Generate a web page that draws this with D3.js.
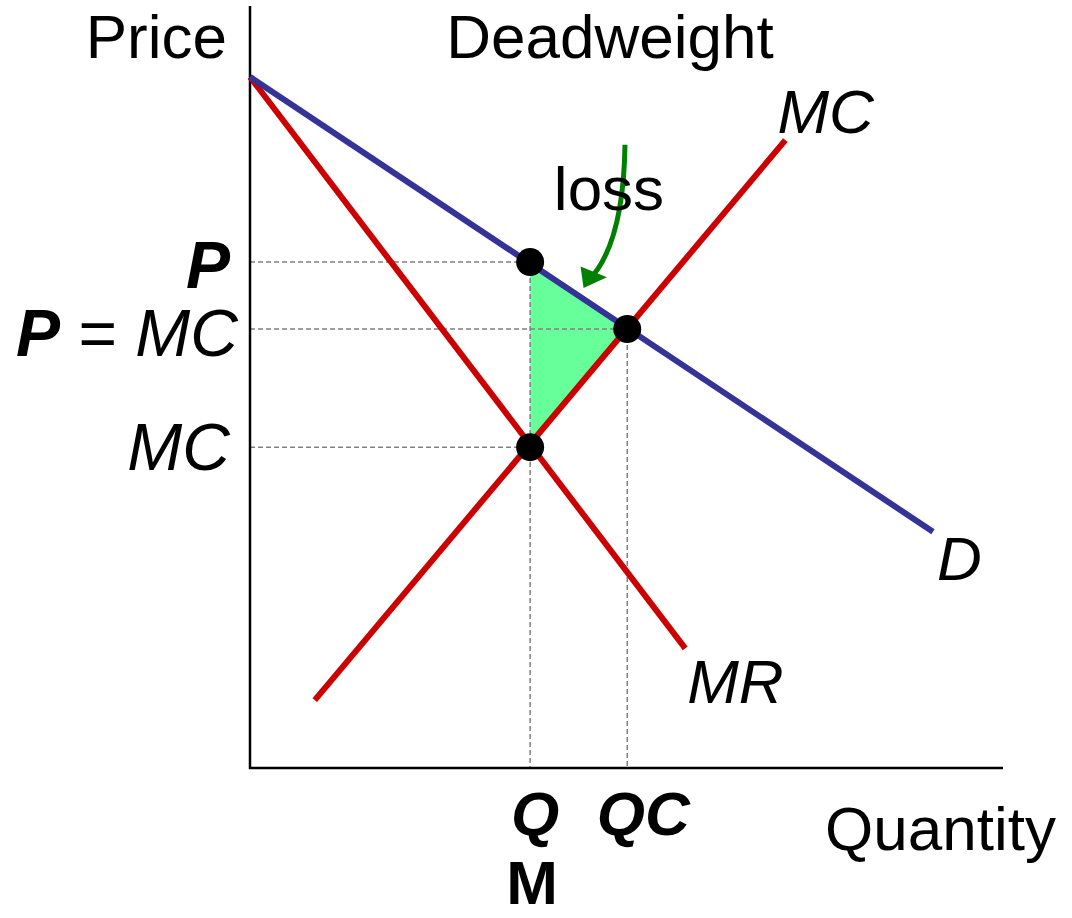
<!DOCTYPE html>
<html>
<head>
<meta charset="utf-8">
<script src="https://cdn.jsdelivr.net/npm/d3@7"></script>
<style>
  body { margin: 0; background: #fff; }
  svg text { font-family: "Liberation Sans", Arial, sans-serif; font-size: 62px; fill: #000; }
</style>
</head>
<body>
<svg id="chart"></svg>
<script>
// curves, in quantity / price units (0..100)
const demand = [[0, 90.7], [90.7, 31.0]];
const marginalRevenue = [[0, 90.7], [57.8, 15.7]];
const marginalCost = [[8.6, 8.9], [71.1, 82.4]];

// key points: monopoly price, competitive equilibrium, monopoly MC
const qM = 37.2, qC = 50.1;
const pM = 66.4, pC = 57.6, mcM = 42.1;
const dots = [[qM, pM], [qC, pC], [qM, mcM]];
const deadweight = [[qM, pM], [qC, pC], [qM, mcM]];

const width = 1072, height = 918;
let svg = d3.select("#chart").attr("width", width).attr("height", height);

let x = d3.scaleLinear().domain([0, 100]).range([250, 1003]);
let y = d3.scaleLinear().domain([0, 100]).range([768, 6]);
let line = d3.line().x((d) => x(d[0])).y((d) => y(d[1]));

// deadweight loss triangle
svg.append("path")
  .attr("d", line(deadweight) + "Z")
  .attr("fill", "#66ff99");

// dashed guides
let guides = [
  [[0, pM], [qM, pM]],
  [[0, pC], [qC, pC]],
  [[0, mcM], [qM, mcM]],
  [[qM, pM], [qM, 0]],
  [[qC, pC], [qC, 0]]
];
svg.selectAll(".guide")
  .data(guides)
  .enter()
  .append("path")
  .attr("class", "guide")
  .attr("d", line)
  .attr("stroke", "#808080")
  .attr("stroke-width", 1.5)
  .attr("stroke-dasharray", "5,3")
  .attr("fill", "none");

// axes
svg.append("path")
  .attr("d", line([[0, 100], [0, 0], [100, 0]]))
  .attr("stroke", "#000")
  .attr("stroke-width", 2.5)
  .attr("fill", "none");

// curves
svg.append("path").attr("d", line(marginalRevenue))
  .attr("stroke", "#cc0000").attr("stroke-width", 6).attr("fill", "none");
svg.append("path").attr("d", line(marginalCost))
  .attr("stroke", "#cc0000").attr("stroke-width", 6).attr("fill", "none");
svg.append("path").attr("d", line(demand))
  .attr("stroke", "#333399").attr("stroke-width", 6).attr("fill", "none");

svg.selectAll(".dot")
  .data(dots)
  .enter()
  .append("circle")
  .attr("class", "dot")
  .attr("cx", (d) => x(d[0]))
  .attr("cy", (d) => y(d[1]))
  .attr("r", 14)
  .attr("fill", "#000");

// green arrow pointing at the triangle
let arrow = d3.path();
arrow.moveTo(x(49.8), y(81.8));
arrow.quadraticCurveTo(x(49.6), y(68.5), x(44.8), y(63.8));
svg.append("path")
  .attr("d", arrow.toString())
  .attr("stroke", "#008000")
  .attr("stroke-width", 5)
  .attr("fill", "none");
svg.append("path")
  .attr("d", line([[44.3, 63.0], [43.9, 65.8], [47.4, 64.4]]) + "Z")
  .attr("fill", "#008000");

// text labels
function label(text, px, py, anchor, size) {
  let t = svg.append("text")
    .attr("x", px)
    .attr("y", py)
    .attr("text-anchor", anchor);
  if (size) t.style("font-size", size + "px");
  text.forEach((part) => {
    t.append("tspan")
      .attr("font-style", part.italic ? "italic" : "normal")
      .attr("font-weight", part.bold ? "bold" : "normal")
      .text(part.s);
  });
  return t;
}

label([{ s: "Price" }], 227, 58, "end");
label([{ s: "Deadweight" }], 610, 58, "middle");
label([{ s: "loss" }], 609, 210, "middle");
label([{ s: "Quantity" }], 1056, 850, "end");

label([{ s: "MC", italic: true }], x(71.1) - 8, 133, "start");
label([{ s: "D", italic: true }], x(90.7) + 4, y(31.0) + 48, "start");
label([{ s: "MR", italic: true }], x(57.8) + 2, y(15.7) + 55, "start");

label([{ s: "P", italic: true, bold: true }], 230, y(pM) + 26, "end", 66);
label([{ s: "P", italic: true, bold: true }, { s: " = " }, { s: "MC", italic: true }], 238, y(pC) + 27, "end", 66);
label([{ s: "MC", italic: true }], 230, y(mcM) + 23, "end", 66);

label([{ s: "Q", italic: true, bold: true }], x(qM) + 5, 835, "middle");
label([{ s: "M", bold: true }], x(qM) + 2, 904, "middle");
label([{ s: "QC", italic: true, bold: true }], x(qC) + 16, 835, "middle");
</script>
</body>
</html>
